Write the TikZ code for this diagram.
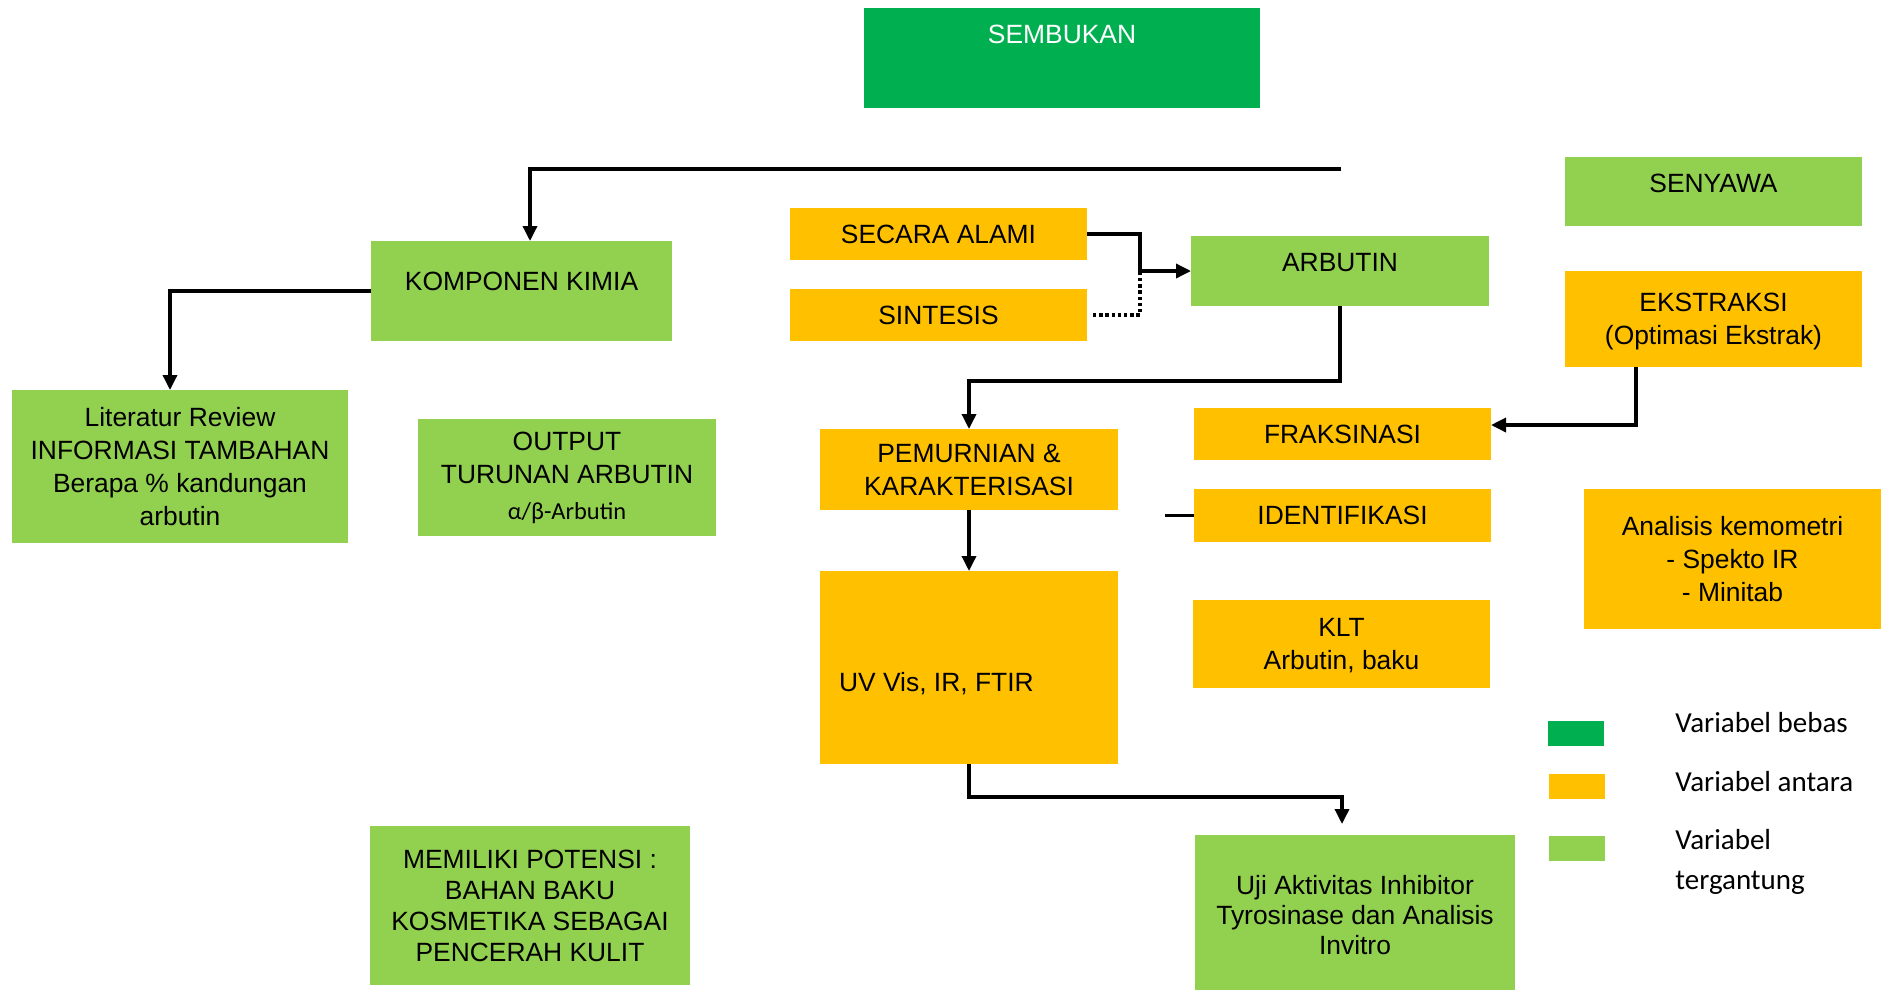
\documentclass[tikz,border=0pt]{standalone}
\usepackage{fontspec}
\setmainfont{Liberation Sans}
\newfontfamily\legendfont{Carlito}
\usepackage{xcolor}
\usepackage{tikz}
\usetikzlibrary{arrows.meta}

\definecolor{darkgreen}{HTML}{00B050}
\definecolor{orangefill}{HTML}{FFC000}
\definecolor{lightgreen}{HTML}{92D050}

\tikzset{
  varbox/.style={inner sep=0pt, outer sep=0pt, align=center, font=\fontsize{13.2}{16.5}\selectfont},
  bebas/.style={varbox, fill=darkgreen},
  antara/.style={varbox, fill=orangefill},
  tergantung/.style={varbox, fill=lightgreen},
  conn/.style={line width=1.7pt},
  arr/.style={conn, -{Triangle[length=7.5pt,width=7pt]}},
  legendtext/.style={anchor=west, align=left, inner sep=0pt, font=\legendfont\fontsize{14.5}{20}\selectfont}
}

\begin{document}
\begin{tikzpicture}[x=0.5pt,y=-0.5pt]
\useasboundingbox (0,0) rectangle (1889,992);

% boxes
\node[bebas, minimum width=198pt, minimum height=50pt,
  label={[anchor=center,yshift=-13pt,text=white,font=\fontsize{13.2}{16.5}\selectfont]north:SEMBUKAN}] (sembukan) at (1062,58) {};
\node[tergantung, minimum width=148.5pt, minimum height=34.5pt,
  label={[anchor=center,yshift=-13pt,font=\fontsize{13.2}{16.5}\selectfont]north:SENYAWA}] (senyawa) at (1713.5,191.5) {};
\node[tergantung, minimum width=150.5pt, minimum height=50pt,
  label={[anchor=center,yshift=-20pt,font=\fontsize{13.2}{16.5}\selectfont]north:KOMPONEN KIMIA}] (komponen) at (521.5,291) {};
\node[tergantung, minimum width=168pt, minimum height=76.5pt, text depth=-1pt] (literatur) at (180,466.5)
  {Literatur Review\\INFORMASI TAMBAHAN\\Berapa \% kandungan\\arbutin};
\node[tergantung, minimum width=149pt, minimum height=58.5pt] (output) at (567,477.5)
  {OUTPUT\\TURUNAN ARBUTIN\\[1.5pt]{\legendfont\fontsize{12.2}{16.5}\selectfont α/β-Arbutin}};
\node[antara, minimum width=148.5pt, minimum height=26pt] (secara) at (938.5,234) {SECARA ALAMI};
\node[antara, minimum width=148.5pt, minimum height=26pt] (sintesis) at (938.5,315) {SINTESIS};
\node[tergantung, minimum width=149pt, minimum height=35pt,
  label={[anchor=center,yshift=-13.5pt,font=\fontsize{13.2}{16.5}\selectfont]north:ARBUTIN}] (arbutin) at (1340,271) {};
\node[antara, minimum width=148.5pt, minimum height=48pt, text depth=-1pt] (ekstraksi) at (1713.5,319)
  {EKSTRAKSI\\(Optimasi Ekstrak)};
\node[antara, minimum width=148.5pt, minimum height=26pt] (fraksinasi) at (1342.5,434) {FRAKSINASI};
\node[antara, minimum width=149pt, minimum height=40.5pt, text depth=-1pt] (pemurnian) at (969,469.5)
  {PEMURNIAN \&\\KARAKTERISASI};
\node[antara, minimum width=148.5pt, minimum height=26.5pt] (identifikasi) at (1342.5,515.5) {IDENTIFIKASI};
\node[antara, minimum width=148.5pt, minimum height=70pt] (analisis) at (1732.5,559)
  {Analisis kemometri\\- Spekto IR\\- Minitab};
\node[antara, minimum width=149pt, minimum height=96.5pt,
  label={[anchor=west,xshift=6pt,yshift=-8pt,font=\fontsize{13.2}{16.5}\selectfont]west:{UV Vis, IR, FTIR}}] (uv) at (969,667.5) {};
\node[antara, minimum width=148.5pt, minimum height=44pt, text depth=-1pt] (klt) at (1341.5,644)
  {KLT\\Arbutin, baku};
\node[tergantung, minimum width=160pt, minimum height=77.5pt, font=\fontsize{13.2}{15.2}\selectfont] (uji) at (1355,912.5)
  {\\[-3pt]Uji Aktivitas Inhibitor\\Tyrosinase dan Analisis\\Invitro};
\node[tergantung, minimum width=160pt, minimum height=79.5pt, font=\fontsize{13.2}{15.5}\selectfont] (memiliki) at (530,905.5)
  {MEMILIKI POTENSI :\\BAHAN BAKU\\KOSMETIKA SEBAGAI\\PENCERAH KULIT};

% legend
\node[bebas, minimum width=28pt, minimum height=12.5pt] (keybebas) at (1576,733.5) {};
\node[antara, minimum width=28pt, minimum height=12.5pt] (keyantara) at (1577,786.5) {};
\node[tergantung, minimum width=28pt, minimum height=12.5pt] (keytergantung) at (1577,848.5) {};
\node[legendtext] (txtbebas) at (1675,723) {Variabel bebas};
\node[legendtext] (txtantara) at (1675,782) {Variabel antara};
\node[legendtext] (txttergantung) at (1675,862) {Variabel\\tergantung};

% connectors
\coordinate (topend) at (1341,169);
\draw[arr] (topend) -| ([xshift=4.25pt]komponen.north);
\draw[arr] (komponen.west) -| ([xshift=-5pt]literatur.north);
\draw[arr] (secara.east) -- ++(53,0) |- (arbutin.west);
\draw[conn, dash pattern=on 1.7pt off 1.4pt] ([xshift=3pt]sintesis.east) -- ++(47,0) -- ++(0,-43);
\draw[arr] (arbutin.south) -- ++(0,75) -| (pemurnian.north);
\draw[arr] ([xshift=-38.75pt]ekstraksi.south) |- ([yshift=4.5pt]fraksinasi.east);
\draw[conn] (identifikasi.west) -- ++(-29,0);
\draw[arr] (pemurnian.south) -- (uv.north);
\draw[arr] (uv.south) -- ++(0,33) -| ([xshift=-6.5pt,yshift=5.5pt]uji.north);

\end{tikzpicture}
\end{document}
